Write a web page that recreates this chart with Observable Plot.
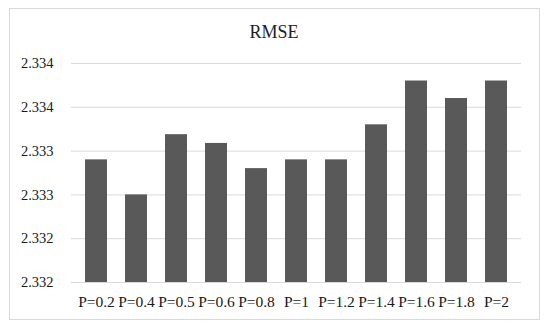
<!DOCTYPE html>
<html>
<head>
<meta charset="utf-8">
<script src="https://cdn.jsdelivr.net/npm/d3@7"></script>
<script src="https://cdn.jsdelivr.net/npm/@observablehq/plot@0.6"></script>
<style>
  body { margin: 0; background: #fff; }
  #wrap { position: relative; width: 550px; height: 329px; overflow: hidden; }
  #frame { position: absolute; left: 9px; top: 8px; width: 531px; height: 312px; border: 1px solid #d9d9d9; box-sizing: border-box; }
  #title { position: absolute; left: 0; width: 548px; top: 23px; line-height: 1; text-align: center; font-family: "Liberation Serif", serif; font-size: 18px; color: #222; }
  #chart { position: absolute; left: 0; top: 0; }
  #chart svg [aria-label="x-axis tick label"] { font-size: 15.5px; }
  #chart svg [aria-label="y-axis tick label"] { font-size: 14.5px; }
</style>
</head>
<body>
<div id="wrap">
  <div id="frame"></div>
  <div id="title">RMSE</div>
  <div id="chart"></div>
</div>
<script>
const categories = ["P=0.2","P=0.4","P=0.5","P=0.6","P=0.8","P=1","P=1.2","P=1.4","P=1.6","P=1.8","P=2"];
const rmse = [2.33312, 2.33280, 2.33335, 2.33327, 2.33304, 2.33312, 2.33312, 2.33344, 2.33384, 2.33368, 2.33384];
const yTicks = [2.3320, 2.3324, 2.3328, 2.3332, 2.3336, 2.3340];

const data = categories.map((c, i) => ({cat: c, value: rmse[i]}));

const chart = Plot.plot({
  width: 550,
  height: 329,
  marginTop: 63,
  marginBottom: 47,
  marginLeft: 71,
  marginRight: 29,
  style: {fontFamily: "'Liberation Serif', serif", fontSize: "14px", color: "#1a1a1a", background: "transparent"},
  x: {domain: categories, paddingInner: 0.46, paddingOuter: 0.23, label: null},
  y: {domain: [2.332, 2.334], label: null},
  marks: [
    Plot.gridY(yTicks, {stroke: "#d9d9d9", strokeOpacity: 1, strokeWidth: 1}),
    Plot.barY(data, {x: "cat", y1: 2.332, y2: "value", fill: "#595959"}),
    Plot.axisY(yTicks, {tickSize: 0, tickPadding: 18, tickFormat: d3.format(".3f"), label: null}),
    Plot.axisX({tickSize: 0, tickPadding: 13, label: null})
  ]
});
document.getElementById("chart").appendChild(chart);
</script>
</body>
</html>
